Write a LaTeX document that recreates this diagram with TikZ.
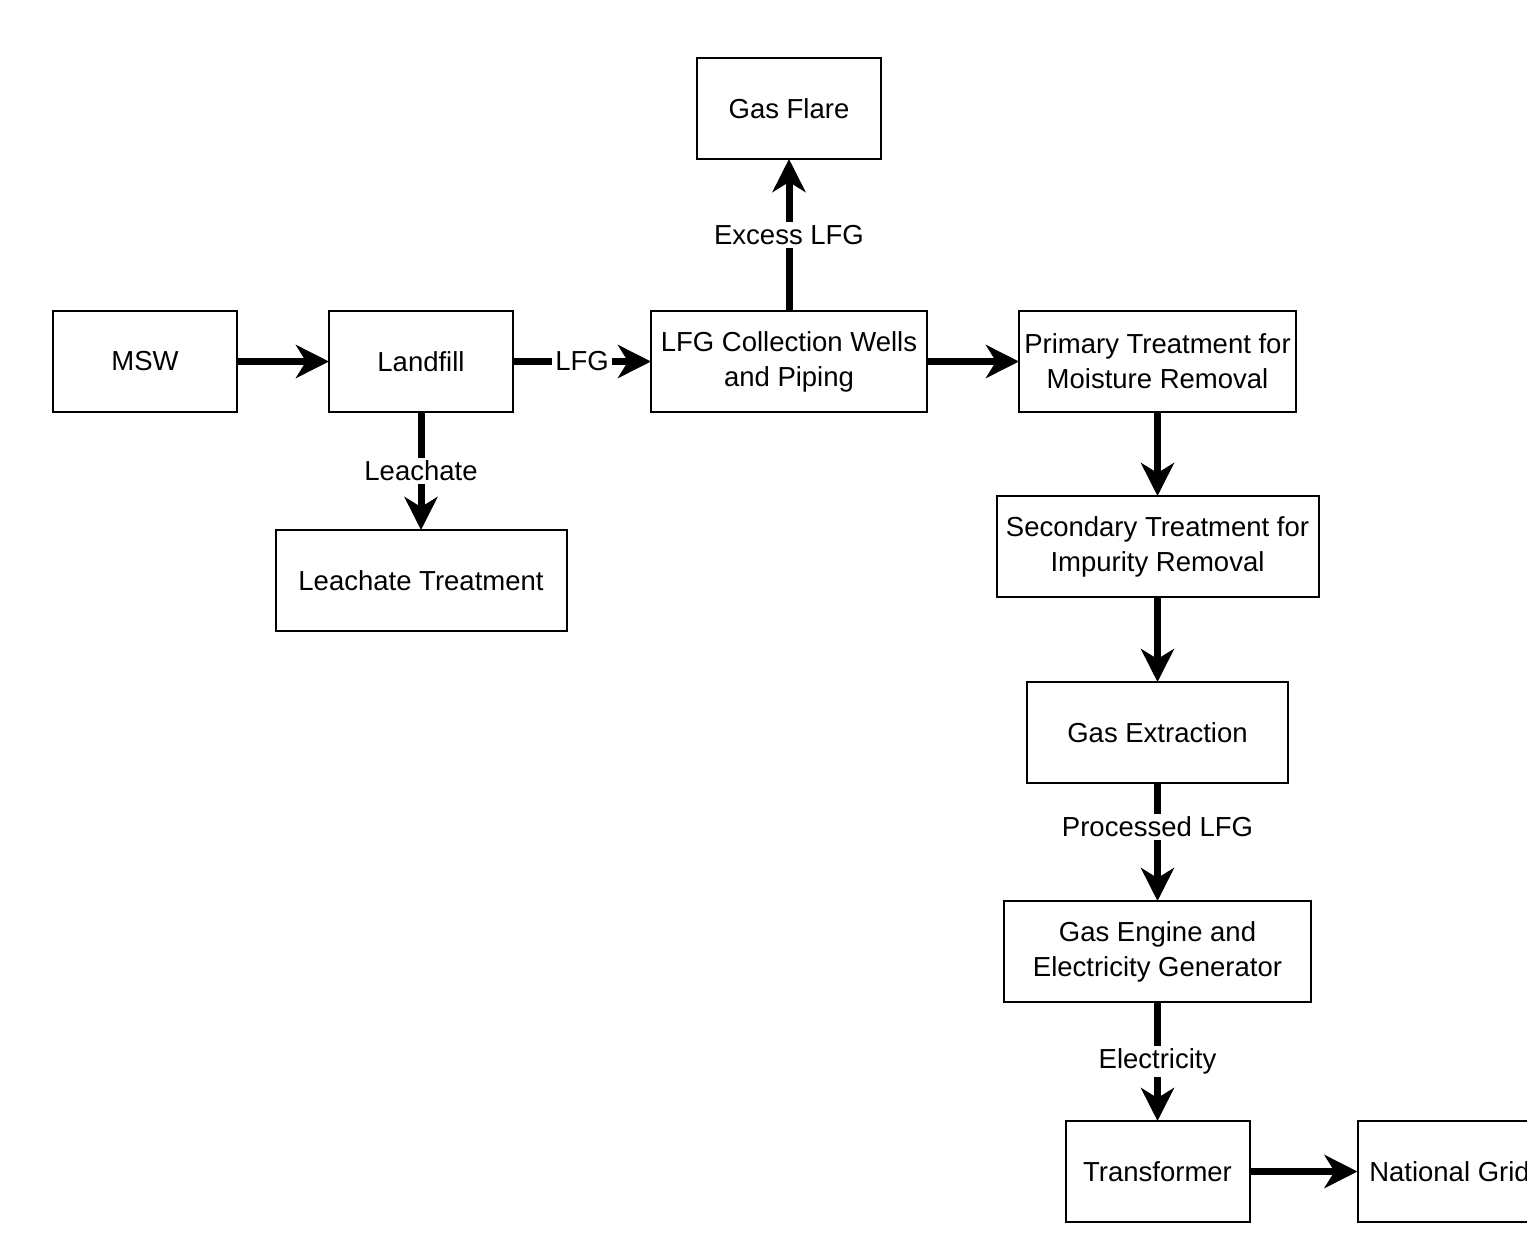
\documentclass[tikz,border=0pt]{standalone}
\usepackage{fontspec}
\setmainfont{Liberation Sans}
\usetikzlibrary{arrows.meta, positioning}

\begin{document}
\begin{tikzpicture}[
    x=0.5pt, y=-0.5pt,
    box/.style={draw, line width=1pt, outer sep=0pt, minimum height=50.5pt, minimum width=#1, align=center, inner sep=2pt, font=\fontsize{13.75}{17.5}\selectfont},
    box/.default=92pt,
    arrow/.style={-{Stealth[length=16.5pt, width=16.5pt, inset=5pt]}, line width=3.5pt},
    arrowlabel/.style={fill=white, inner sep=1.5pt, font=\fontsize{13.75}{17.5}\selectfont},
  ]

  % Frame of the page
  \path[use as bounding box, fill=white] (0,0) rectangle (1527,1233);
  \clip (0,0) rectangle (1527,1233);

  % Landfill row
  \node[box] (msw) at (145,361.5) {MSW};
  \node[box, right=46pt of msw] (landfill) {Landfill};
  \node[box=138pt, right=69pt of landfill] (wells) {LFG Collection Wells\\and Piping};
  \node[box=138.5pt, right=46pt of wells] (primary) {Primary Treatment for\\Moisture Removal};

  % Side branches
  \node[box, above=76pt of wells] (flare) {Gas Flare};
  \node[box=145.5pt, below=59pt of landfill] (leachtreat) {Leachate Treatment};

  % Treatment and power chain
  \node[box=161pt, below=42pt of primary] (secondary) {Secondary Treatment for\\Impurity Removal};
  \node[box=130.5pt, below=42.5pt of secondary] (extraction) {Gas Extraction};
  \node[box=153.5pt, below=59pt of extraction] (engine) {Gas Engine and\\Electricity Generator};
  \node[box, below=59.5pt of engine] (transformer) {Transformer};
  \node[box, right=54pt of transformer] (grid) {National Grid};

  % Arrows
  \draw[arrow] (msw) -- (landfill);
  \draw[arrow] (landfill) -- node[arrowlabel] {LFG} (wells);
  \draw[arrow] (landfill) -- node[arrowlabel] {Leachate} (leachtreat);
  \draw[arrow] (wells) -- node[arrowlabel] {Excess LFG} (flare);
  \draw[arrow] (wells) -- (primary);
  \draw[arrow] (primary) -- (secondary);
  \draw[arrow] (secondary) -- (extraction);
  \draw[arrow] (extraction) -- node[arrowlabel, pos=0.37] {Processed LFG} (engine);
  \draw[arrow] (engine) -- node[arrowlabel] {Electricity} (transformer);
  \draw[arrow] (transformer) -- (grid);

\end{tikzpicture}
\end{document}
